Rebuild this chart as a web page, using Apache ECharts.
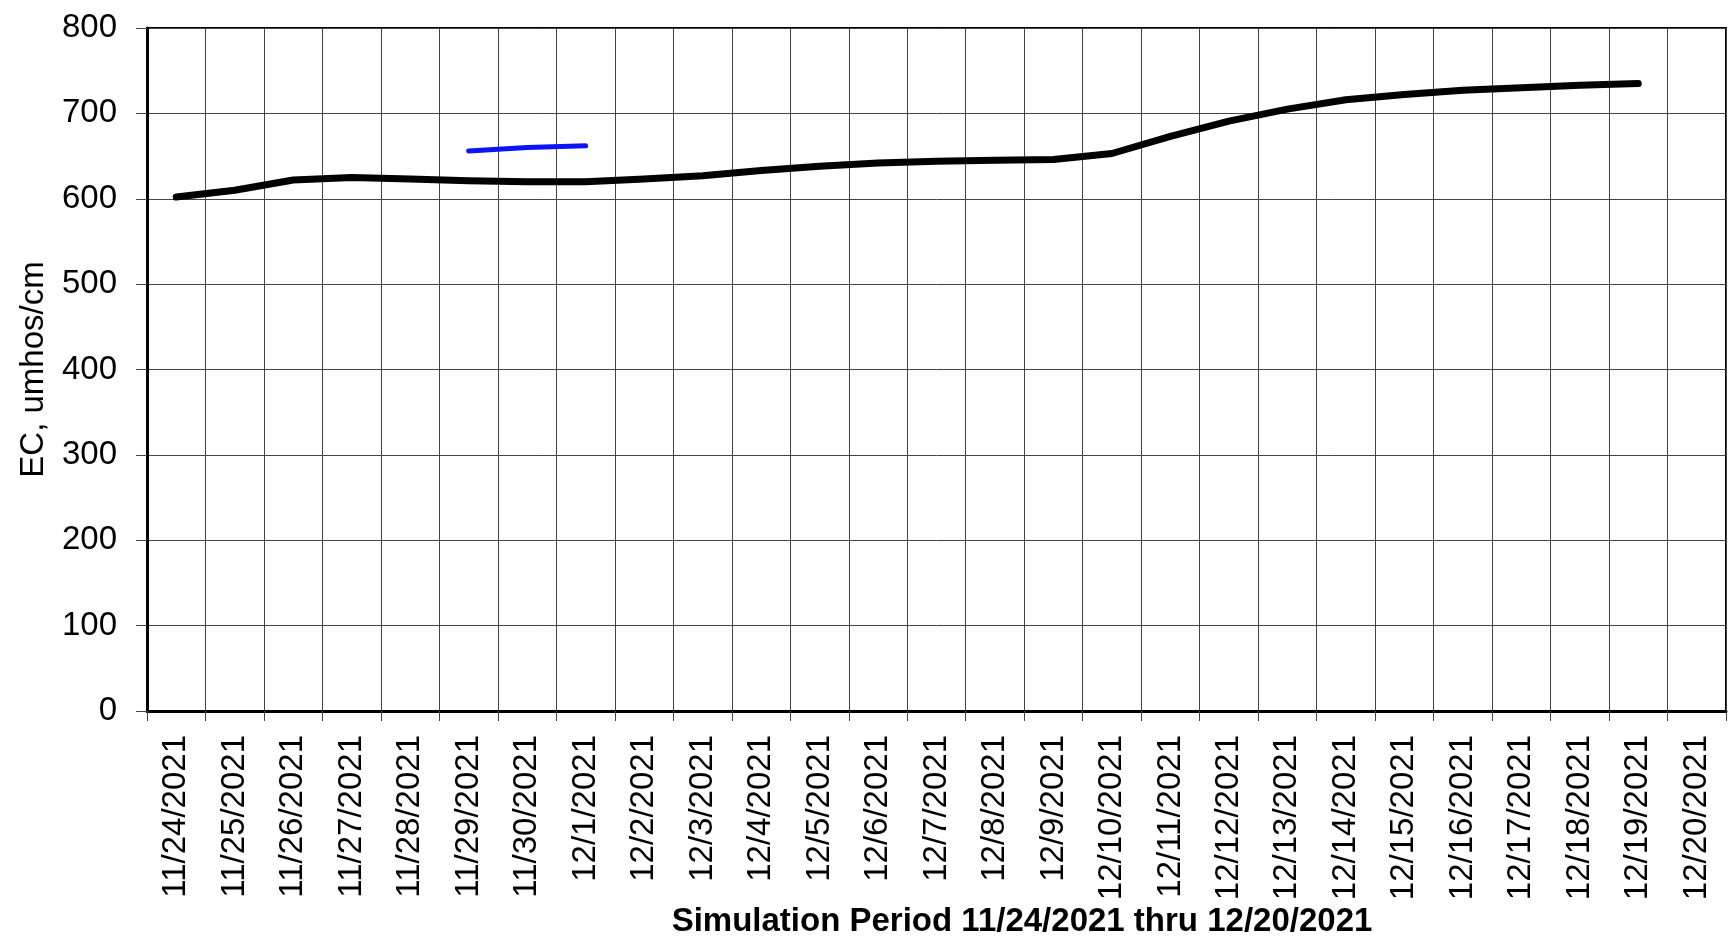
<!DOCTYPE html>
<html>
<head>
<meta charset="utf-8">
<script src="https://cdn.jsdelivr.net/npm/echarts@6/dist/echarts.min.js"></script>
<style>
  html, body { margin: 0; padding: 0; background: #fff; }
  #chart { width: 1732px; height: 948px; }
</style>
</head>
<body>
<div id="chart"></div>
<script>
const dates = [
  '11/24/2021', '11/25/2021', '11/26/2021', '11/27/2021', '11/28/2021', '11/29/2021',
  '11/30/2021', '12/1/2021', '12/2/2021', '12/3/2021', '12/4/2021', '12/5/2021',
  '12/6/2021', '12/7/2021', '12/8/2021', '12/9/2021', '12/10/2021', '12/11/2021',
  '12/12/2021', '12/13/2021', '12/14/2021', '12/15/2021', '12/16/2021', '12/17/2021',
  '12/18/2021', '12/19/2021', '12/20/2021'
]

// simulated EC (black line)
const simulated = [
  602, 610, 622, 625, 623, 621, 620, 620, 623, 627, 633, 638,
  642, 644, 645, 646, 653, 673, 691, 705, 716, 722, 727, 730,
  733, 735, null
]

// observed EC (blue line)
const observed = [
  null, null, null, null, null, 656, 660, 662, null, null, null, null,
  null, null, null, null, null, null, null, null, null, null, null, null,
  null, null, null
]

const yTicks = [0, 100, 200, 300, 400, 500, 600, 700, 800]

const FONT = '"Liberation Sans", Arial, sans-serif'
const chart = echarts.init(document.getElementById('chart'))

chart.setOption({
  animation: false,
  backgroundColor: '#fff',
  grid: {
    left: 147, right: 6, top: 28, bottom: 237,
    show: true, borderColor: '#000', borderWidth: 2
  },
  xAxis: {
    type: 'category',
    data: dates,
    boundaryGap: true,
    axisLine: { lineStyle: { color: '#000', width: 3 } },
    axisTick: { show: true, length: 10, interval: 0, lineStyle: { color: '#444' } },
    axisLabel: {
      interval: 0, rotate: 90, margin: 24,
      color: '#000', fontSize: 33, fontFamily: FONT
    },
    splitLine: { show: true, interval: 0, lineStyle: { color: '#444', width: 1 } }
  },
  yAxis: {
    type: 'value',
    min: yTicks[0],
    max: yTicks[yTicks.length - 1],
    interval: 100,
    name: 'EC, umhos/cm',
    nameLocation: 'middle',
    nameGap: 97,
    nameTextStyle: { color: '#000', fontSize: 33, fontFamily: FONT },
    axisLine: { show: true, lineStyle: { color: '#000', width: 3 } },
    axisTick: { show: true, length: 11, lineStyle: { color: '#444' } },
    axisLabel: { margin: 30, color: '#000', fontSize: 33, fontFamily: FONT },
    splitLine: { show: true, lineStyle: { color: '#444', width: 1 } }
  },
  graphic: [{
    type: 'text',
    x: 1022, y: 922,
    style: {
      text: 'Simulation Period 11/24/2021 thru 12/20/2021',
      fill: '#000',
      font: 'bold 33px ' + FONT,
      textAlign: 'center',
      textVerticalAlign: 'middle'
    }
  }],
  series: [
    {
      name: 'Simulated',
      type: 'line',
      data: simulated,
      symbol: 'none',
      lineStyle: { color: '#000', width: 7, cap: 'round', join: 'round' }
    },
    {
      name: 'Observed',
      type: 'line',
      data: observed,
      symbol: 'none',
      lineStyle: { color: '#0a14f5', width: 5, cap: 'round', join: 'round' }
    }
  ]
})
</script>
</body>
</html>
